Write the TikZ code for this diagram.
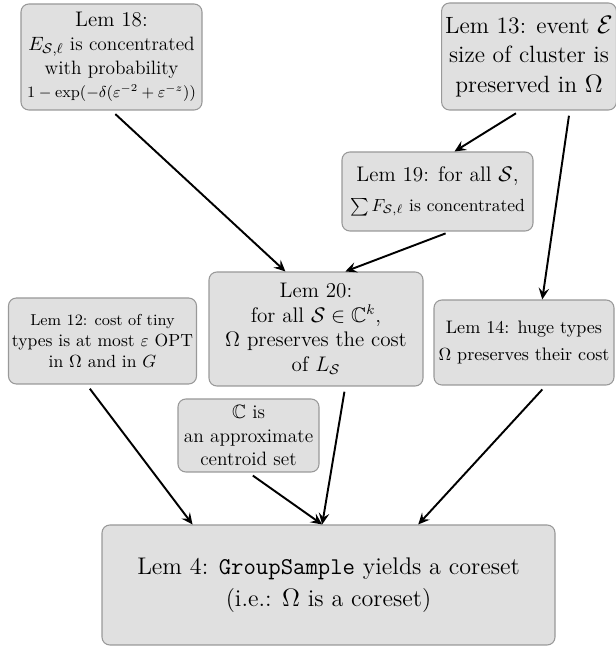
\documentclass[tikz,border=0pt]{standalone}
\usepackage{amssymb}
\usetikzlibrary{arrows.meta}

\begin{document}
\begin{tikzpicture}[
  lem/.style={draw=black!40, fill=black!12, line width=0.6pt, rounded corners=4.5pt, align=center, inner sep=2pt},
  dep/.style={line width=1.1pt, -{Stealth[length=6.5pt,width=6pt,inset=2.5pt]}, shorten <=3pt}
]
  \useasboundingbox (0cm,0cm) rectangle (12.32cm,12.92cm);
  % top row
  \node[lem, font=\fontsize{11}{13.5}\selectfont, minimum width=3.62cm, minimum height=2.12cm] (lem18) at (2.23cm,11.78cm)
    {{\large Lem 18:}\\ $E_{\mathcal{S},\ell}$ is concentrated\\ with probability\\ {\small $1-\exp(-\delta(\varepsilon^{-2}+\varepsilon^{-z}))$}};
  \node[lem, font=\fontsize{13.4}{16.8}\selectfont, minimum width=3.44cm, minimum height=2.14cm] (lem13) at (10.58cm,11.79cm)
    {Lem 13: event $\mathcal{E}$\\ size of cluster is\\ preserved in $\Omega$};
  \node[lem, minimum width=3.82cm, minimum height=1.58cm] (lem19) at (8.75cm,9.09cm)
    {{\large Lem 19: for all $\mathcal{S}$,}\\[5pt] $\sum F_{\mathcal{S},\ell}$ is concentrated};
  % middle row
  \node[lem, font=\large, minimum width=4.28cm, minimum height=2.28cm] (lem20) at (6.32cm,6.34cm)
    {Lem 20:\\ for all $\mathcal{S}\in\mathbb{C}^k$,\\ $\Omega$ preserves the cost\\ of $L_{\mathcal{S}}$};
  \node[lem, minimum width=3.62cm, minimum height=1.72cm] (lem12) at (2.05cm,6.10cm)
    {{\small Lem 12: cost of tiny}\\ types is at most $\varepsilon$ OPT\\ in $\Omega$ and in $G$};
  \node[lem, font=\fontsize{10.3}{15}\selectfont, minimum width=3.60cm, minimum height=1.70cm] (lem14) at (10.48cm,6.07cm)
    {Lem 14: huge types\\ $\Omega$ preserves their cost};
  \node[lem, font=\fontsize{11}{13.5}\selectfont, minimum width=2.82cm, minimum height=1.46cm] (cset) at (4.97cm,4.21cm)
    {$\mathbb{C}$ is\\ an approximate\\ centroid set};
  % bottom
  \node[lem, font=\fontsize{13.7}{18}\selectfont, minimum width=9.06cm, minimum height=2.40cm] (lem4) at (6.57cm,1.22cm)
    {Lem 4: \texttt{GroupSample} yields a coreset\\ (i.e.: $\Omega$ is a coreset)};
  % dependencies
  \draw[dep] (lem18.south) -- (lem20.118);
  \draw[dep] (lem13.261) -- (lem19.67);
  \draw[dep] (lem13.307) -- (lem14.67);
  \draw[dep] (lem19.288) -- (lem20.63);
  \draw[dep] (lem12.250) -- (lem4.156);
  \draw[dep] (cset.south) -- (lem4.96);
  \draw[dep] (lem20.297) -- (lem4.96);
  \draw[dep] (lem14.297) -- (lem4.34);
\end{tikzpicture}
\end{document}
